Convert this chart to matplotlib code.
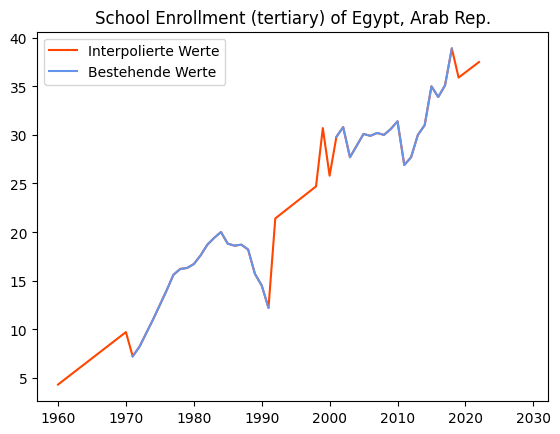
import numpy as np
import matplotlib
matplotlib.use("Agg")
import matplotlib.pyplot as plt

# existing (measured) values
years_existing = [1971, 1972, 1973, 1974, 1975, 1976, 1977, 1978, 1979, 1980,
                  1981, 1982, 1983, 1984, 1985, 1986, 1987, 1988, 1989, 1990, 1991,
                  2001, 2002, 2003, 2004, 2005, 2006, 2007, 2008, 2009, 2010,
                  2011, 2012, 2013, 2014, 2015, 2016, 2017, 2018]
values_existing = [7.2, 8.2, 9.6, 11.0, 12.5, 14.0, 15.6, 16.2, 16.3, 16.7,
                   17.6, 18.7, 19.4, 20.0, 18.8, 18.6, 18.7, 18.2, 15.7, 14.5, 12.2,
                   29.8, 30.8, 27.7, 28.9, 30.1, 29.9, 30.2, 30.0, 30.6, 31.4,
                   26.9, 27.7, 30.0, 31.0, 35.0, 33.9, 35.1, 38.9]

# extra points that only exist in the interpolated series
years_interp_only = [1960, 1970, 1992, 1998, 1999, 2000, 2019, 2022]
values_interp_only = [4.3, 9.7, 21.4, 24.7, 30.7, 25.8, 35.9, 37.5]

interp = sorted(zip(years_existing + years_interp_only, values_existing + values_interp_only))
years_interp = [y for y, _ in interp]
values_interp = [v for _, v in interp]

# blue line with gaps where no data exists
all_years = np.arange(1960, 2023)
lookup = dict(zip(years_existing, values_existing))
blue = [lookup.get(y, np.nan) for y in all_years]

fig, ax = plt.subplots(figsize=(5.6, 4.35), dpi=100)
ax.plot(years_interp, values_interp, color='orangered', label='Interpolierte Werte')
ax.plot(all_years, blue, color='cornflowerblue', label='Bestehende Werte')
ax.set_title('School Enrollment (tertiary) of Egypt, Arab Rep.')
ax.set_xticks(range(1960, 2031, 10))
ax.set_xlim(1956.9, 2032.2)
ax.legend(loc='upper left')
fig.subplots_adjust(left=0.066, right=0.979, top=0.925, bottom=0.075)
fig.savefig('out.png')
